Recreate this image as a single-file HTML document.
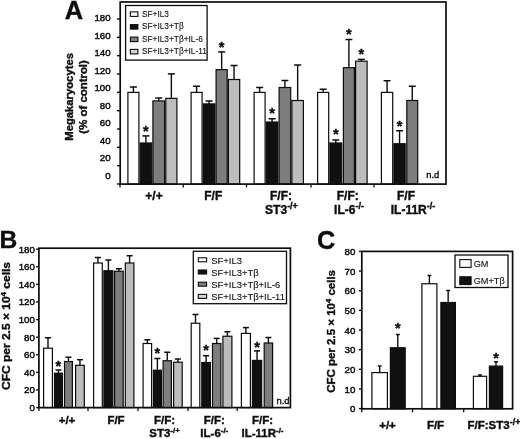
<!DOCTYPE html>
<html lang="en"><head><meta charset="utf-8"><title>Figure</title>
<style>
html,body{margin:0;padding:0;background:#fff}
body{width:520px;height:439px;overflow:hidden}
svg{display:block;font-family:"Liberation Sans",Arial,sans-serif;fill:#0d0d0d;filter:blur(0.4px);}
text{stroke:#0d0d0d;stroke-width:0.38px}
.tk{stroke:#0d0d0d;stroke-width:0.45px}
.lg{stroke:#0d0d0d;stroke-width:0.1px}
</style></head><body>
<svg width="520" height="439" viewBox="0 0 520 439">
<rect x="0" y="0" width="520" height="439" fill="#fff" stroke="none"/>
<line x1="133.40" y1="92.40" x2="133.40" y2="87.00" stroke="#0d0d0d" stroke-width="1.4"/>
<line x1="129.90" y1="87.00" x2="136.90" y2="87.00" stroke="#0d0d0d" stroke-width="1.5"/>
<rect x="127.90" y="92.40" width="11.00" height="91.70" fill="#fff" stroke="#0d0d0d" stroke-width="1.2"/>
<line x1="145.90" y1="143.00" x2="145.90" y2="135.90" stroke="#0d0d0d" stroke-width="1.4"/>
<line x1="142.40" y1="135.90" x2="149.40" y2="135.90" stroke="#0d0d0d" stroke-width="1.5"/>
<rect x="140.10" y="143.00" width="11.60" height="41.10" fill="#101010" stroke="#0d0d0d" stroke-width="1.2"/>
<line x1="158.75" y1="100.90" x2="158.75" y2="98.00" stroke="#0d0d0d" stroke-width="1.4"/>
<line x1="155.25" y1="98.00" x2="162.25" y2="98.00" stroke="#0d0d0d" stroke-width="1.5"/>
<rect x="152.90" y="100.90" width="11.70" height="83.20" fill="#7d7d7d" stroke="#0d0d0d" stroke-width="1.2"/>
<line x1="171.35" y1="98.40" x2="171.35" y2="73.90" stroke="#0d0d0d" stroke-width="1.4"/>
<line x1="167.85" y1="73.90" x2="174.85" y2="73.90" stroke="#0d0d0d" stroke-width="1.5"/>
<rect x="165.80" y="98.40" width="11.10" height="85.70" fill="#bdbdbd" stroke="#0d0d0d" stroke-width="1.2"/>
<line x1="196.60" y1="92.40" x2="196.60" y2="86.25" stroke="#0d0d0d" stroke-width="1.4"/>
<line x1="193.10" y1="86.25" x2="200.10" y2="86.25" stroke="#0d0d0d" stroke-width="1.5"/>
<rect x="191.10" y="92.40" width="11.00" height="91.70" fill="#fff" stroke="#0d0d0d" stroke-width="1.2"/>
<line x1="209.10" y1="103.90" x2="209.10" y2="101.00" stroke="#0d0d0d" stroke-width="1.4"/>
<line x1="205.60" y1="101.00" x2="212.60" y2="101.00" stroke="#0d0d0d" stroke-width="1.5"/>
<rect x="203.30" y="103.90" width="11.60" height="80.20" fill="#101010" stroke="#0d0d0d" stroke-width="1.2"/>
<line x1="221.65" y1="69.60" x2="221.65" y2="51.90" stroke="#0d0d0d" stroke-width="1.4"/>
<line x1="218.15" y1="51.90" x2="225.15" y2="51.90" stroke="#0d0d0d" stroke-width="1.5"/>
<rect x="216.10" y="69.60" width="11.10" height="114.50" fill="#7d7d7d" stroke="#0d0d0d" stroke-width="1.2"/>
<line x1="234.05" y1="79.50" x2="234.05" y2="65.50" stroke="#0d0d0d" stroke-width="1.4"/>
<line x1="230.55" y1="65.50" x2="237.55" y2="65.50" stroke="#0d0d0d" stroke-width="1.5"/>
<rect x="228.40" y="79.50" width="11.30" height="104.60" fill="#bdbdbd" stroke="#0d0d0d" stroke-width="1.2"/>
<line x1="259.60" y1="92.40" x2="259.60" y2="87.50" stroke="#0d0d0d" stroke-width="1.4"/>
<line x1="256.10" y1="87.50" x2="263.10" y2="87.50" stroke="#0d0d0d" stroke-width="1.5"/>
<rect x="254.10" y="92.40" width="11.00" height="91.70" fill="#fff" stroke="#0d0d0d" stroke-width="1.2"/>
<line x1="272.10" y1="122.00" x2="272.10" y2="118.75" stroke="#0d0d0d" stroke-width="1.4"/>
<line x1="268.60" y1="118.75" x2="275.60" y2="118.75" stroke="#0d0d0d" stroke-width="1.5"/>
<rect x="266.30" y="122.00" width="11.60" height="62.10" fill="#101010" stroke="#0d0d0d" stroke-width="1.2"/>
<line x1="284.90" y1="87.50" x2="284.90" y2="80.50" stroke="#0d0d0d" stroke-width="1.4"/>
<line x1="281.40" y1="80.50" x2="288.40" y2="80.50" stroke="#0d0d0d" stroke-width="1.5"/>
<rect x="279.10" y="87.50" width="11.60" height="96.60" fill="#7d7d7d" stroke="#0d0d0d" stroke-width="1.2"/>
<line x1="297.65" y1="100.50" x2="297.65" y2="65.00" stroke="#0d0d0d" stroke-width="1.4"/>
<line x1="294.15" y1="65.00" x2="301.15" y2="65.00" stroke="#0d0d0d" stroke-width="1.5"/>
<rect x="291.90" y="100.50" width="11.50" height="83.60" fill="#bdbdbd" stroke="#0d0d0d" stroke-width="1.2"/>
<line x1="323.15" y1="92.40" x2="323.15" y2="89.25" stroke="#0d0d0d" stroke-width="1.4"/>
<line x1="319.65" y1="89.25" x2="326.65" y2="89.25" stroke="#0d0d0d" stroke-width="1.5"/>
<rect x="317.60" y="92.40" width="11.10" height="91.70" fill="#fff" stroke="#0d0d0d" stroke-width="1.2"/>
<line x1="335.80" y1="143.00" x2="335.80" y2="140.00" stroke="#0d0d0d" stroke-width="1.4"/>
<line x1="332.30" y1="140.00" x2="339.30" y2="140.00" stroke="#0d0d0d" stroke-width="1.5"/>
<rect x="329.90" y="143.00" width="11.80" height="41.10" fill="#101010" stroke="#0d0d0d" stroke-width="1.2"/>
<line x1="348.90" y1="67.70" x2="348.90" y2="39.50" stroke="#0d0d0d" stroke-width="1.4"/>
<line x1="345.40" y1="39.50" x2="352.40" y2="39.50" stroke="#0d0d0d" stroke-width="1.5"/>
<rect x="343.40" y="67.70" width="11.00" height="116.40" fill="#7d7d7d" stroke="#0d0d0d" stroke-width="1.2"/>
<line x1="361.35" y1="61.20" x2="361.35" y2="59.40" stroke="#0d0d0d" stroke-width="1.4"/>
<line x1="357.85" y1="59.40" x2="364.85" y2="59.40" stroke="#0d0d0d" stroke-width="1.5"/>
<rect x="355.60" y="61.20" width="11.50" height="122.90" fill="#bdbdbd" stroke="#0d0d0d" stroke-width="1.2"/>
<line x1="387.05" y1="92.40" x2="387.05" y2="80.75" stroke="#0d0d0d" stroke-width="1.4"/>
<line x1="383.55" y1="80.75" x2="390.55" y2="80.75" stroke="#0d0d0d" stroke-width="1.5"/>
<rect x="381.40" y="92.40" width="11.30" height="91.70" fill="#fff" stroke="#0d0d0d" stroke-width="1.2"/>
<line x1="399.55" y1="143.75" x2="399.55" y2="130.75" stroke="#0d0d0d" stroke-width="1.4"/>
<line x1="396.05" y1="130.75" x2="403.05" y2="130.75" stroke="#0d0d0d" stroke-width="1.5"/>
<rect x="393.90" y="143.75" width="11.30" height="40.35" fill="#101010" stroke="#0d0d0d" stroke-width="1.2"/>
<line x1="412.25" y1="100.50" x2="412.25" y2="86.25" stroke="#0d0d0d" stroke-width="1.4"/>
<line x1="408.75" y1="86.25" x2="415.75" y2="86.25" stroke="#0d0d0d" stroke-width="1.5"/>
<rect x="406.80" y="100.50" width="10.90" height="83.60" fill="#7d7d7d" stroke="#0d0d0d" stroke-width="1.2"/>
<text x="145.90" y="135.60" font-size="14.5" font-weight="bold" text-anchor="middle" >*</text>
<text x="221.65" y="51.50" font-size="14.5" font-weight="bold" text-anchor="middle" >*</text>
<text x="272.10" y="117.50" font-size="14.5" font-weight="bold" text-anchor="middle" >*</text>
<text x="335.80" y="139.30" font-size="14.5" font-weight="bold" text-anchor="middle" >*</text>
<text x="348.90" y="39.10" font-size="14.5" font-weight="bold" text-anchor="middle" >*</text>
<text x="361.35" y="58.90" font-size="14.5" font-weight="bold" text-anchor="middle" >*</text>
<text x="399.55" y="131.30" font-size="14.5" font-weight="bold" text-anchor="middle" >*</text>
<rect x="120.20" y="2.00" width="325.80" height="182.10" fill="none" stroke="#0d0d0d" stroke-width="1.7"/>
<line x1="117.00" y1="184.00" x2="120.20" y2="184.00" stroke="#0d0d0d" stroke-width="1.4"/>
<text x="110.60" y="178.50" font-size="9.7" font-weight="normal" text-anchor="end" class="tk">0</text>
<line x1="117.00" y1="165.67" x2="120.20" y2="165.67" stroke="#0d0d0d" stroke-width="1.4"/>
<text x="110.60" y="161.03" font-size="9.7" font-weight="normal" text-anchor="end" class="tk">20</text>
<line x1="117.00" y1="147.34" x2="120.20" y2="147.34" stroke="#0d0d0d" stroke-width="1.4"/>
<text x="110.60" y="143.56" font-size="9.7" font-weight="normal" text-anchor="end" class="tk">40</text>
<line x1="117.00" y1="129.01" x2="120.20" y2="129.01" stroke="#0d0d0d" stroke-width="1.4"/>
<text x="110.60" y="126.09" font-size="9.7" font-weight="normal" text-anchor="end" class="tk">60</text>
<line x1="117.00" y1="110.68" x2="120.20" y2="110.68" stroke="#0d0d0d" stroke-width="1.4"/>
<text x="110.60" y="108.62" font-size="9.7" font-weight="normal" text-anchor="end" class="tk">80</text>
<line x1="117.00" y1="92.35" x2="120.20" y2="92.35" stroke="#0d0d0d" stroke-width="1.4"/>
<text x="110.60" y="91.15" font-size="9.7" font-weight="normal" text-anchor="end" class="tk">100</text>
<line x1="117.00" y1="74.02" x2="120.20" y2="74.02" stroke="#0d0d0d" stroke-width="1.4"/>
<text x="110.60" y="73.68" font-size="9.7" font-weight="normal" text-anchor="end" class="tk">120</text>
<line x1="117.00" y1="55.69" x2="120.20" y2="55.69" stroke="#0d0d0d" stroke-width="1.4"/>
<text x="110.60" y="56.21" font-size="9.7" font-weight="normal" text-anchor="end" class="tk">140</text>
<line x1="117.00" y1="37.36" x2="120.20" y2="37.36" stroke="#0d0d0d" stroke-width="1.4"/>
<text x="110.60" y="38.74" font-size="9.7" font-weight="normal" text-anchor="end" class="tk">160</text>
<line x1="117.00" y1="19.03" x2="120.20" y2="19.03" stroke="#0d0d0d" stroke-width="1.4"/>
<text x="110.60" y="21.27" font-size="9.7" font-weight="normal" text-anchor="end" class="tk">180</text>
<line x1="120.00" y1="184.10" x2="120.00" y2="187.60" stroke="#0d0d0d" stroke-width="1.3"/>
<line x1="183.25" y1="184.10" x2="183.25" y2="187.60" stroke="#0d0d0d" stroke-width="1.3"/>
<line x1="246.50" y1="184.10" x2="246.50" y2="187.60" stroke="#0d0d0d" stroke-width="1.3"/>
<line x1="311.00" y1="184.10" x2="311.00" y2="187.60" stroke="#0d0d0d" stroke-width="1.3"/>
<line x1="374.00" y1="184.10" x2="374.00" y2="187.60" stroke="#0d0d0d" stroke-width="1.3"/>
<text x="432.80" y="177.80" font-size="9.4" font-weight="normal" text-anchor="middle" >n.d</text>
<rect x="125.60" y="5.50" width="81.50" height="54.60" fill="#fff" stroke="#0d0d0d" stroke-width="1.3"/>
<rect x="130.40" y="11.90" width="7.50" height="4.50" fill="#fff" stroke="#0d0d0d" stroke-width="1.1"/>
<text x="142.00" y="17.20" font-size="8.3" font-weight="normal" text-anchor="start" class="lg">SF+IL3</text>
<rect x="130.40" y="24.60" width="7.50" height="4.50" fill="#101010" stroke="#0d0d0d" stroke-width="1.1"/>
<text x="142.00" y="29.40" font-size="8.3" font-weight="normal" text-anchor="start" class="lg">SF+IL3+T&#946;</text>
<rect x="130.40" y="37.10" width="7.50" height="4.50" fill="#808080" stroke="#0d0d0d" stroke-width="1.1"/>
<text x="142.00" y="41.60" font-size="8.3" font-weight="normal" text-anchor="start" class="lg">SF+IL3+T&#946;+IL-6</text>
<rect x="130.40" y="49.40" width="7.50" height="4.50" fill="#d4d4d4" stroke="#0d0d0d" stroke-width="1.1"/>
<text x="142.00" y="53.80" font-size="8.3" font-weight="normal" text-anchor="start" class="lg">SF+IL3+T&#946;+IL-11</text>
<text x="64.80" y="18.70" font-size="25.4" font-weight="bold" text-anchor="start" >A</text>
<text transform="translate(72.70,140.75) rotate(-90)" font-size="11" font-weight="bold" textLength="87.70" lengthAdjust="spacingAndGlyphs">Megakaryocytes</text>
<text transform="translate(87.00,133.65) rotate(-90)" font-size="11" font-weight="bold" textLength="73.50" lengthAdjust="spacingAndGlyphs">(% of control)</text>
<text x="154.00" y="199.50" font-size="12" font-weight="bold" text-anchor="middle" >+/+</text>
<text x="213.25" y="199.50" font-size="12" font-weight="bold" text-anchor="middle" >F/F</text>
<text x="281.00" y="199.50" font-size="12" font-weight="bold" text-anchor="middle" >F/F:</text>
<text x="281.50" y="213.50" font-size="12" font-weight="bold" text-anchor="middle" >ST3<tspan font-size="9" dy="-4.4">-/+</tspan></text>
<text x="347.75" y="199.50" font-size="12" font-weight="bold" text-anchor="middle" >F/F:</text>
<text x="349.00" y="213.50" font-size="12" font-weight="bold" text-anchor="middle" >IL-6<tspan font-size="9" dy="-4.4">-/-</tspan></text>
<text x="406.00" y="199.50" font-size="12" font-weight="bold" text-anchor="middle" >F/F</text>
<text x="413.00" y="213.50" font-size="12" font-weight="bold" text-anchor="middle" >IL-11R<tspan font-size="9" dy="-4.4">-/-</tspan></text>
<line x1="48.00" y1="348.20" x2="48.00" y2="337.75" stroke="#0d0d0d" stroke-width="1.4"/>
<line x1="45.00" y1="337.75" x2="51.00" y2="337.75" stroke="#0d0d0d" stroke-width="1.5"/>
<rect x="43.60" y="348.20" width="8.80" height="59.40" fill="#fff" stroke="#0d0d0d" stroke-width="1.2"/>
<line x1="58.45" y1="373.20" x2="58.45" y2="370.00" stroke="#0d0d0d" stroke-width="1.4"/>
<line x1="55.45" y1="370.00" x2="61.45" y2="370.00" stroke="#0d0d0d" stroke-width="1.5"/>
<rect x="54.50" y="373.20" width="7.90" height="34.40" fill="#101010" stroke="#0d0d0d" stroke-width="1.2"/>
<line x1="68.45" y1="361.50" x2="68.45" y2="357.25" stroke="#0d0d0d" stroke-width="1.4"/>
<line x1="65.45" y1="357.25" x2="71.45" y2="357.25" stroke="#0d0d0d" stroke-width="1.5"/>
<rect x="64.50" y="361.50" width="7.90" height="46.10" fill="#7d7d7d" stroke="#0d0d0d" stroke-width="1.2"/>
<line x1="79.95" y1="365.30" x2="79.95" y2="359.70" stroke="#0d0d0d" stroke-width="1.4"/>
<line x1="76.95" y1="359.70" x2="82.95" y2="359.70" stroke="#0d0d0d" stroke-width="1.5"/>
<rect x="75.60" y="365.30" width="8.70" height="42.30" fill="#bdbdbd" stroke="#0d0d0d" stroke-width="1.2"/>
<line x1="97.95" y1="263.00" x2="97.95" y2="257.50" stroke="#0d0d0d" stroke-width="1.4"/>
<line x1="94.95" y1="257.50" x2="100.95" y2="257.50" stroke="#0d0d0d" stroke-width="1.5"/>
<rect x="93.60" y="263.00" width="8.70" height="144.60" fill="#fff" stroke="#0d0d0d" stroke-width="1.2"/>
<line x1="108.40" y1="270.75" x2="108.40" y2="260.00" stroke="#0d0d0d" stroke-width="1.4"/>
<line x1="105.40" y1="260.00" x2="111.40" y2="260.00" stroke="#0d0d0d" stroke-width="1.5"/>
<rect x="103.90" y="270.75" width="9.00" height="136.85" fill="#101010" stroke="#0d0d0d" stroke-width="1.2"/>
<line x1="118.90" y1="271.25" x2="118.90" y2="268.75" stroke="#0d0d0d" stroke-width="1.4"/>
<line x1="115.90" y1="268.75" x2="121.90" y2="268.75" stroke="#0d0d0d" stroke-width="1.5"/>
<rect x="114.60" y="271.25" width="8.60" height="136.35" fill="#7d7d7d" stroke="#0d0d0d" stroke-width="1.2"/>
<line x1="129.60" y1="263.00" x2="129.60" y2="255.75" stroke="#0d0d0d" stroke-width="1.4"/>
<line x1="126.60" y1="255.75" x2="132.60" y2="255.75" stroke="#0d0d0d" stroke-width="1.5"/>
<rect x="125.30" y="263.00" width="8.60" height="144.60" fill="#bdbdbd" stroke="#0d0d0d" stroke-width="1.2"/>
<line x1="147.35" y1="343.50" x2="147.35" y2="339.75" stroke="#0d0d0d" stroke-width="1.4"/>
<line x1="144.35" y1="339.75" x2="150.35" y2="339.75" stroke="#0d0d0d" stroke-width="1.5"/>
<rect x="143.10" y="343.50" width="8.50" height="64.10" fill="#fff" stroke="#0d0d0d" stroke-width="1.2"/>
<line x1="157.40" y1="370.25" x2="157.40" y2="358.50" stroke="#0d0d0d" stroke-width="1.4"/>
<line x1="154.40" y1="358.50" x2="160.40" y2="358.50" stroke="#0d0d0d" stroke-width="1.5"/>
<rect x="153.40" y="370.25" width="8.00" height="37.35" fill="#101010" stroke="#0d0d0d" stroke-width="1.2"/>
<line x1="167.25" y1="360.75" x2="167.25" y2="352.25" stroke="#0d0d0d" stroke-width="1.4"/>
<line x1="164.25" y1="352.25" x2="170.25" y2="352.25" stroke="#0d0d0d" stroke-width="1.5"/>
<rect x="163.10" y="360.75" width="8.30" height="46.85" fill="#7d7d7d" stroke="#0d0d0d" stroke-width="1.2"/>
<line x1="177.90" y1="362.25" x2="177.90" y2="359.00" stroke="#0d0d0d" stroke-width="1.4"/>
<line x1="174.90" y1="359.00" x2="180.90" y2="359.00" stroke="#0d0d0d" stroke-width="1.5"/>
<rect x="173.60" y="362.25" width="8.60" height="45.35" fill="#bdbdbd" stroke="#0d0d0d" stroke-width="1.2"/>
<line x1="195.50" y1="323.25" x2="195.50" y2="314.50" stroke="#0d0d0d" stroke-width="1.4"/>
<line x1="192.50" y1="314.50" x2="198.50" y2="314.50" stroke="#0d0d0d" stroke-width="1.5"/>
<rect x="191.20" y="323.25" width="8.60" height="84.35" fill="#fff" stroke="#0d0d0d" stroke-width="1.2"/>
<line x1="206.10" y1="362.50" x2="206.10" y2="355.70" stroke="#0d0d0d" stroke-width="1.4"/>
<line x1="203.10" y1="355.70" x2="209.10" y2="355.70" stroke="#0d0d0d" stroke-width="1.5"/>
<rect x="201.80" y="362.50" width="8.60" height="45.10" fill="#101010" stroke="#0d0d0d" stroke-width="1.2"/>
<line x1="216.70" y1="343.50" x2="216.70" y2="338.40" stroke="#0d0d0d" stroke-width="1.4"/>
<line x1="213.70" y1="338.40" x2="219.70" y2="338.40" stroke="#0d0d0d" stroke-width="1.5"/>
<rect x="212.50" y="343.50" width="8.40" height="64.10" fill="#7d7d7d" stroke="#0d0d0d" stroke-width="1.2"/>
<line x1="227.40" y1="336.25" x2="227.40" y2="331.75" stroke="#0d0d0d" stroke-width="1.4"/>
<line x1="224.40" y1="331.75" x2="230.40" y2="331.75" stroke="#0d0d0d" stroke-width="1.5"/>
<rect x="222.90" y="336.25" width="9.00" height="71.35" fill="#bdbdbd" stroke="#0d0d0d" stroke-width="1.2"/>
<line x1="245.90" y1="333.40" x2="245.90" y2="327.60" stroke="#0d0d0d" stroke-width="1.4"/>
<line x1="242.90" y1="327.60" x2="248.90" y2="327.60" stroke="#0d0d0d" stroke-width="1.5"/>
<rect x="241.40" y="333.40" width="9.00" height="74.20" fill="#fff" stroke="#0d0d0d" stroke-width="1.2"/>
<line x1="257.05" y1="360.40" x2="257.05" y2="350.90" stroke="#0d0d0d" stroke-width="1.4"/>
<line x1="254.05" y1="350.90" x2="260.05" y2="350.90" stroke="#0d0d0d" stroke-width="1.5"/>
<rect x="252.40" y="360.40" width="9.30" height="47.20" fill="#101010" stroke="#0d0d0d" stroke-width="1.2"/>
<line x1="268.40" y1="343.00" x2="268.40" y2="337.50" stroke="#0d0d0d" stroke-width="1.4"/>
<line x1="265.40" y1="337.50" x2="271.40" y2="337.50" stroke="#0d0d0d" stroke-width="1.5"/>
<rect x="264.20" y="343.00" width="8.40" height="64.60" fill="#7d7d7d" stroke="#0d0d0d" stroke-width="1.2"/>
<text x="58.45" y="370.90" font-size="14.5" font-weight="bold" text-anchor="middle" >*</text>
<text x="157.40" y="357.70" font-size="14.5" font-weight="bold" text-anchor="middle" >*</text>
<text x="206.10" y="354.60" font-size="14.5" font-weight="bold" text-anchor="middle" >*</text>
<text x="257.05" y="351.90" font-size="14.5" font-weight="bold" text-anchor="middle" >*</text>
<rect x="38.90" y="248.20" width="251.50" height="159.40" fill="none" stroke="#0d0d0d" stroke-width="1.7"/>
<line x1="36.10" y1="407.60" x2="38.90" y2="407.60" stroke="#0d0d0d" stroke-width="1.4"/>
<text x="34.80" y="410.90" font-size="9.7" font-weight="normal" text-anchor="end" class="tk">0</text>
<line x1="36.10" y1="390.00" x2="38.90" y2="390.00" stroke="#0d0d0d" stroke-width="1.4"/>
<text x="34.80" y="393.30" font-size="9.7" font-weight="normal" text-anchor="end" class="tk">20</text>
<line x1="36.10" y1="372.40" x2="38.90" y2="372.40" stroke="#0d0d0d" stroke-width="1.4"/>
<text x="34.80" y="375.70" font-size="9.7" font-weight="normal" text-anchor="end" class="tk">40</text>
<line x1="36.10" y1="354.80" x2="38.90" y2="354.80" stroke="#0d0d0d" stroke-width="1.4"/>
<text x="34.80" y="358.10" font-size="9.7" font-weight="normal" text-anchor="end" class="tk">60</text>
<line x1="36.10" y1="337.20" x2="38.90" y2="337.20" stroke="#0d0d0d" stroke-width="1.4"/>
<text x="34.80" y="340.50" font-size="9.7" font-weight="normal" text-anchor="end" class="tk">80</text>
<line x1="36.10" y1="319.60" x2="38.90" y2="319.60" stroke="#0d0d0d" stroke-width="1.4"/>
<text x="34.80" y="322.90" font-size="9.7" font-weight="normal" text-anchor="end" class="tk">100</text>
<line x1="36.10" y1="302.00" x2="38.90" y2="302.00" stroke="#0d0d0d" stroke-width="1.4"/>
<text x="34.80" y="305.30" font-size="9.7" font-weight="normal" text-anchor="end" class="tk">120</text>
<line x1="36.10" y1="284.40" x2="38.90" y2="284.40" stroke="#0d0d0d" stroke-width="1.4"/>
<text x="34.80" y="287.70" font-size="9.7" font-weight="normal" text-anchor="end" class="tk">140</text>
<line x1="36.10" y1="266.80" x2="38.90" y2="266.80" stroke="#0d0d0d" stroke-width="1.4"/>
<text x="34.80" y="270.10" font-size="9.7" font-weight="normal" text-anchor="end" class="tk">160</text>
<line x1="36.10" y1="249.20" x2="38.90" y2="249.20" stroke="#0d0d0d" stroke-width="1.4"/>
<text x="34.80" y="252.50" font-size="9.7" font-weight="normal" text-anchor="end" class="tk">180</text>
<line x1="38.90" y1="407.60" x2="38.90" y2="411.10" stroke="#0d0d0d" stroke-width="1.3"/>
<line x1="88.00" y1="407.60" x2="88.00" y2="411.10" stroke="#0d0d0d" stroke-width="1.3"/>
<line x1="138.00" y1="407.60" x2="138.00" y2="411.10" stroke="#0d0d0d" stroke-width="1.3"/>
<line x1="188.00" y1="407.60" x2="188.00" y2="411.10" stroke="#0d0d0d" stroke-width="1.3"/>
<line x1="237.20" y1="407.60" x2="237.20" y2="411.10" stroke="#0d0d0d" stroke-width="1.3"/>
<text x="283.00" y="404.00" font-size="9.4" font-weight="normal" text-anchor="middle" >n.d</text>
<rect x="193.30" y="251.30" width="93.20" height="52.40" fill="#fff" stroke="#0d0d0d" stroke-width="1.3"/>
<rect x="198.30" y="257.80" width="8.30" height="4.00" fill="#fff" stroke="#0d0d0d" stroke-width="1.1"/>
<text x="211.20" y="263.60" font-size="9.45" font-weight="normal" text-anchor="start" class="lg">SF+IL3</text>
<rect x="198.30" y="270.00" width="8.30" height="4.00" fill="#101010" stroke="#0d0d0d" stroke-width="1.1"/>
<text x="211.20" y="275.80" font-size="9.45" font-weight="normal" text-anchor="start" class="lg">SF+IL3+T&#946;</text>
<rect x="198.30" y="282.20" width="8.30" height="4.00" fill="#808080" stroke="#0d0d0d" stroke-width="1.1"/>
<text x="211.20" y="288.00" font-size="9.45" font-weight="normal" text-anchor="start" class="lg">SF+IL3+T&#946;+IL-6</text>
<rect x="198.30" y="294.40" width="8.30" height="4.00" fill="#d4d4d4" stroke="#0d0d0d" stroke-width="1.1"/>
<text x="211.20" y="300.20" font-size="9.45" font-weight="normal" text-anchor="start" class="lg">SF+IL3+T&#946;+IL-11</text>
<text x="-0.50" y="248.20" font-size="24.6" font-weight="bold" text-anchor="start" >B</text>
<text transform="translate(10.20,390.00) rotate(-90)" font-size="11.5" font-weight="bold" textLength="128.00" lengthAdjust="spacingAndGlyphs">CFC per 2.5 &#215; 10<tspan font-size="7.6" dy="-4.2">4</tspan><tspan dy="4.2"> cells</tspan></text>
<text x="67.00" y="423.70" font-size="11.5" font-weight="bold" text-anchor="middle" >+/+</text>
<text x="116.00" y="423.70" font-size="11.5" font-weight="bold" text-anchor="middle" >F/F</text>
<text x="164.50" y="423.70" font-size="11.5" font-weight="bold" text-anchor="middle" >F/F:</text>
<text x="164.50" y="436.90" font-size="11.5" font-weight="bold" text-anchor="middle" >ST3<tspan font-size="7.9" dy="-3.7">-/+</tspan></text>
<text x="214.30" y="423.70" font-size="11.5" font-weight="bold" text-anchor="middle" >F/F:</text>
<text x="214.30" y="436.90" font-size="11.5" font-weight="bold" text-anchor="middle" >IL-6<tspan font-size="7.9" dy="-3.7">-/-</tspan></text>
<text x="262.50" y="423.70" font-size="11.5" font-weight="bold" text-anchor="middle" >F/F:</text>
<text x="262.50" y="436.90" font-size="11.5" font-weight="bold" text-anchor="middle" >IL-11R<tspan font-size="7.9" dy="-3.7">-/-</tspan></text>
<line x1="379.65" y1="372.60" x2="379.65" y2="366.00" stroke="#0d0d0d" stroke-width="1.4"/>
<line x1="377.70" y1="366.00" x2="381.60" y2="366.00" stroke="#0d0d0d" stroke-width="1.5"/>
<rect x="371.90" y="372.60" width="15.50" height="36.20" fill="#fff" stroke="#0d0d0d" stroke-width="1.2"/>
<line x1="397.80" y1="347.75" x2="397.80" y2="334.50" stroke="#0d0d0d" stroke-width="1.4"/>
<line x1="395.85" y1="334.50" x2="399.75" y2="334.50" stroke="#0d0d0d" stroke-width="1.5"/>
<rect x="390.40" y="347.75" width="14.80" height="61.05" fill="#101010" stroke="#0d0d0d" stroke-width="1.2"/>
<line x1="429.40" y1="283.75" x2="429.40" y2="275.50" stroke="#0d0d0d" stroke-width="1.4"/>
<line x1="427.45" y1="275.50" x2="431.35" y2="275.50" stroke="#0d0d0d" stroke-width="1.5"/>
<rect x="421.90" y="283.75" width="15.00" height="125.05" fill="#fff" stroke="#0d0d0d" stroke-width="1.2"/>
<line x1="448.15" y1="302.50" x2="448.15" y2="290.50" stroke="#0d0d0d" stroke-width="1.4"/>
<line x1="446.20" y1="290.50" x2="450.10" y2="290.50" stroke="#0d0d0d" stroke-width="1.5"/>
<rect x="440.90" y="302.50" width="14.50" height="106.30" fill="#101010" stroke="#0d0d0d" stroke-width="1.2"/>
<line x1="480.00" y1="376.30" x2="480.00" y2="375.00" stroke="#0d0d0d" stroke-width="1.4"/>
<line x1="478.05" y1="375.00" x2="481.95" y2="375.00" stroke="#0d0d0d" stroke-width="1.5"/>
<rect x="473.40" y="376.30" width="13.20" height="32.50" fill="#fff" stroke="#0d0d0d" stroke-width="1.2"/>
<line x1="496.00" y1="366.10" x2="496.00" y2="361.80" stroke="#0d0d0d" stroke-width="1.4"/>
<line x1="494.05" y1="361.80" x2="497.95" y2="361.80" stroke="#0d0d0d" stroke-width="1.5"/>
<rect x="489.40" y="366.10" width="13.20" height="42.70" fill="#101010" stroke="#0d0d0d" stroke-width="1.2"/>
<text x="397.80" y="333.30" font-size="14.5" font-weight="bold" text-anchor="middle" >*</text>
<text x="496.00" y="362.90" font-size="14.5" font-weight="bold" text-anchor="middle" >*</text>
<rect x="361.80" y="251.40" width="150.80" height="157.40" fill="none" stroke="#0d0d0d" stroke-width="1.7"/>
<line x1="359.00" y1="408.60" x2="361.80" y2="408.60" stroke="#0d0d0d" stroke-width="1.4"/>
<text x="355.40" y="412.30" font-size="9.7" font-weight="normal" text-anchor="end" class="tk">0</text>
<line x1="359.00" y1="388.95" x2="361.80" y2="388.95" stroke="#0d0d0d" stroke-width="1.4"/>
<text x="355.40" y="392.65" font-size="9.7" font-weight="normal" text-anchor="end" class="tk">10</text>
<line x1="359.00" y1="369.30" x2="361.80" y2="369.30" stroke="#0d0d0d" stroke-width="1.4"/>
<text x="355.40" y="373.00" font-size="9.7" font-weight="normal" text-anchor="end" class="tk">20</text>
<line x1="359.00" y1="349.65" x2="361.80" y2="349.65" stroke="#0d0d0d" stroke-width="1.4"/>
<text x="355.40" y="353.35" font-size="9.7" font-weight="normal" text-anchor="end" class="tk">30</text>
<line x1="359.00" y1="330.00" x2="361.80" y2="330.00" stroke="#0d0d0d" stroke-width="1.4"/>
<text x="355.40" y="333.70" font-size="9.7" font-weight="normal" text-anchor="end" class="tk">40</text>
<line x1="359.00" y1="310.35" x2="361.80" y2="310.35" stroke="#0d0d0d" stroke-width="1.4"/>
<text x="355.40" y="314.05" font-size="9.7" font-weight="normal" text-anchor="end" class="tk">50</text>
<line x1="359.00" y1="290.70" x2="361.80" y2="290.70" stroke="#0d0d0d" stroke-width="1.4"/>
<text x="355.40" y="294.40" font-size="9.7" font-weight="normal" text-anchor="end" class="tk">60</text>
<line x1="359.00" y1="271.05" x2="361.80" y2="271.05" stroke="#0d0d0d" stroke-width="1.4"/>
<text x="355.40" y="274.75" font-size="9.7" font-weight="normal" text-anchor="end" class="tk">70</text>
<line x1="359.00" y1="251.40" x2="361.80" y2="251.40" stroke="#0d0d0d" stroke-width="1.4"/>
<text x="355.40" y="255.10" font-size="9.7" font-weight="normal" text-anchor="end" class="tk">80</text>
<line x1="361.80" y1="408.80" x2="361.80" y2="412.30" stroke="#0d0d0d" stroke-width="1.3"/>
<line x1="412.50" y1="408.80" x2="412.50" y2="412.30" stroke="#0d0d0d" stroke-width="1.3"/>
<line x1="463.70" y1="408.80" x2="463.70" y2="412.30" stroke="#0d0d0d" stroke-width="1.3"/>
<rect x="455.00" y="255.00" width="53.00" height="32.50" fill="#fff" stroke="#0d0d0d" stroke-width="1.3"/>
<rect x="459.80" y="259.60" width="11.30" height="7.80" fill="#fff" stroke="#0d0d0d" stroke-width="1.1"/>
<rect x="459.80" y="276.80" width="11.30" height="7.80" fill="#101010" stroke="#0d0d0d" stroke-width="1.1"/>
<text x="473.70" y="267.30" font-size="9.2" font-weight="normal" text-anchor="start" class="lg">GM</text>
<text x="473.70" y="284.00" font-size="9.2" font-weight="normal" text-anchor="start" class="lg">GM+T&#946;</text>
<text x="317.10" y="249.10" font-size="25.2" font-weight="bold" text-anchor="start" >C</text>
<text transform="translate(334.80,392.77) rotate(-90)" font-size="11.5" font-weight="bold" textLength="122.75" lengthAdjust="spacingAndGlyphs">CFC per 2.5 &#215; 10<tspan font-size="7.6" dy="-4.2">4</tspan><tspan dy="4.2"> cells</tspan></text>
<text x="387.50" y="428.60" font-size="11.5" font-weight="bold" text-anchor="middle" >+/+</text>
<text x="435.50" y="428.60" font-size="11.5" font-weight="bold" text-anchor="middle" >F/F</text>
<text x="467.50" y="428.80" font-size="11.5" font-weight="bold" text-anchor="start" >F/F:ST3<tspan font-size="9" dy="-3.5">-/+</tspan></text>
</svg>
</body></html>
